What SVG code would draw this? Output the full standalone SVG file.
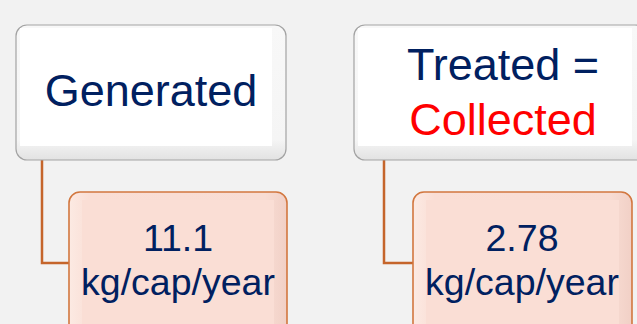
<svg xmlns="http://www.w3.org/2000/svg" width="637" height="324" viewBox="0 0 637 324">
<style>
.t{font-family:"Liberation Sans",Arial,sans-serif;fill:#002060;text-anchor:middle}
.big{font-size:45px}
.small{font-size:37.5px}
.red{fill:#FF0000}
.conn{fill:none;stroke:#C5652B;stroke-width:2.5}
.wOuter{fill:url(#wg);stroke:#A3A3A3;stroke-width:1.2}
.wFace{fill:#FFFFFF}
.pOuter{fill:url(#pg);stroke:#D2773F;stroke-width:1.6}
.pFace{fill:#FADED5}
</style>
<defs>
<linearGradient id="wg" x1="0" y1="0" x2="0" y2="1">
<stop offset="0" stop-color="#F8F8F8"/>
<stop offset="0.85" stop-color="#F5F5F5"/>
<stop offset="1" stop-color="#E2E2E2"/>
</linearGradient>
<linearGradient id="pg" x1="0" y1="0" x2="1" y2="0">
<stop offset="0" stop-color="#FCEAE3"/>
<stop offset="0.1" stop-color="#FADED5"/>
<stop offset="0.9" stop-color="#F8DCD3"/>
<stop offset="1" stop-color="#F1D0C6"/>
</linearGradient>
</defs>
<rect width="637" height="324" fill="#F2F2F2"/>
<g id="connectors">
<path class="conn" d="M42,160 V263 H70"/>
<path class="conn" d="M384,160 V263 H414"/>
</g>
<g id="generated">
<rect class="wOuter" x="16" y="25" width="270" height="135" rx="11"/>
<rect class="wFace" x="20" y="28" width="252" height="118"/>
<text class="t big" x="151" y="106">Generated</text>
</g>
<g id="treated">
<rect class="wOuter" x="354" y="25" width="292" height="135" rx="11"/>
<rect class="wFace" x="358" y="28" width="274" height="118"/>
<text class="t big" x="503" y="80">Treated =</text>
<text class="t big red" x="503" y="135">Collected</text>
</g>
<g id="value1">
<rect class="pOuter" x="69" y="192" width="218" height="150" rx="11"/>
<rect class="pFace" x="82" y="200" width="192" height="140"/>
<text class="t small" x="178" y="251">11.1</text>
<text class="t small" x="178" y="295">kg/cap/year</text>
</g>
<g id="value2">
<rect class="pOuter" x="413" y="192" width="219" height="150" rx="11"/>
<rect class="pFace" x="426" y="200" width="193" height="140"/>
<text class="t small" x="522" y="251">2.78</text>
<text class="t small" x="522" y="295">kg/cap/year</text>
</g>
</svg>
